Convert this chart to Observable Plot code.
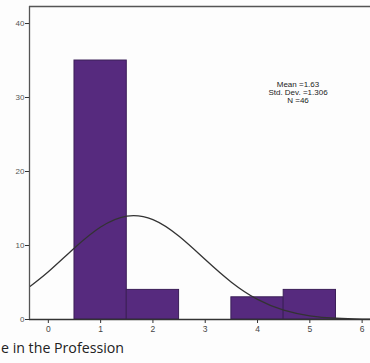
<!DOCTYPE html>
<html><head><meta charset="utf-8">
<script src="https://cdn.jsdelivr.net/npm/d3@7"></script>
<script src="https://cdn.jsdelivr.net/npm/@observablehq/plot@0.6"></script>
<style>
html,body{margin:0;padding:0;background:#fdfdfd;}
#chart{position:relative;width:370px;height:363px;overflow:hidden;}
</style>
</head><body>
<div id="chart"></div>
<script>
const binStart = [0.5, 1.5, 2.5, 3.5, 4.5];
const binEnd   = [1.5, 2.5, 3.5, 4.5, 5.5];
const counts   = [35, 4, 0, 3, 4];
const curveX = [-0.4, 0, 0.5, 1, 1.5, 2, 2.5, 3, 3.5, 4, 4.5, 5, 5.5, 6, 6.5];
const curveY = [4.2, 6.45, 9.67, 12.5, 13.98, 13.5, 11.25, 8.1, 5.04, 2.71, 1.26, 0.5, 0.17, 0.05, 0.01];
const xTicks = [0, 1, 2, 3, 4, 5, 6];
const yTicks = [0, 10, 20, 30, 40];
const statsLines = ["Mean =1.63", "Std. Dev. =1.306", "N =46"];
const xLabel = "e in the Profession";

const bins = binStart.map((s, i) => ({x1: s, x2: binEnd[i], y: counts[i]})).filter(d => d.y > 0);
const curve = curveX.map((x, i) => ({x, y: curveY[i]}));

const plot = Plot.plot({
  width: 370, height: 363,
  marginLeft: 29, marginRight: 0, marginTop: 6, marginBottom: 44,
  style: {background: "transparent", fontFamily: "Liberation Sans, Arial, sans-serif"},
  x: {domain: [-0.36, 6.16], label: null},
  y: {domain: [0, 42.3], label: null},
  marks: [
    Plot.rectY(bins, {x1: "x1", x2: "x2", y: "y", fill: "#562a7e", stroke: "#3b1f58", strokeWidth: 1}),
    Plot.line(curve, {x: "x", y: "y", stroke: "#333", strokeWidth: 1.3, curve: "natural", clip: true}),
    Plot.axisX({ticks: xTicks, tickSize: 4, fontSize: 8.5, fill: "#444", stroke: "#333", tickPadding: 2, tickFormat: d => d}),
    Plot.axisY({ticks: yTicks, tickSize: 4, fontSize: 8, fill: "#555", stroke: "#333", tickPadding: 1, tickFormat: d => d}),
    Plot.ruleY([0], {stroke: "#333", strokeWidth: 1.5}),
    Plot.ruleX([-0.36], {stroke: "#555", strokeWidth: 1.3}),
    Plot.ruleY([42.3], {stroke: "#555", strokeWidth: 1.3})
  ]
});
document.getElementById("chart").appendChild(plot);

const svg = d3.select(plot);
const g = svg.append("g").attr("font-family", "Liberation Sans, Arial, sans-serif").attr("font-size", 8).attr("fill", "#222").attr("text-anchor", "middle");
statsLines.forEach((t, i) => g.append("text").attr("x", 298).attr("y", 87 + i * 8).text(t));
svg.append("text").attr("x", 1).attr("y", 353).attr("text-anchor", "start")
  .attr("font-family", "Open Sans, Liberation Sans, sans-serif").attr("font-size", 14.2).attr("fill", "#222").text(xLabel);
</script>
</body></html>
